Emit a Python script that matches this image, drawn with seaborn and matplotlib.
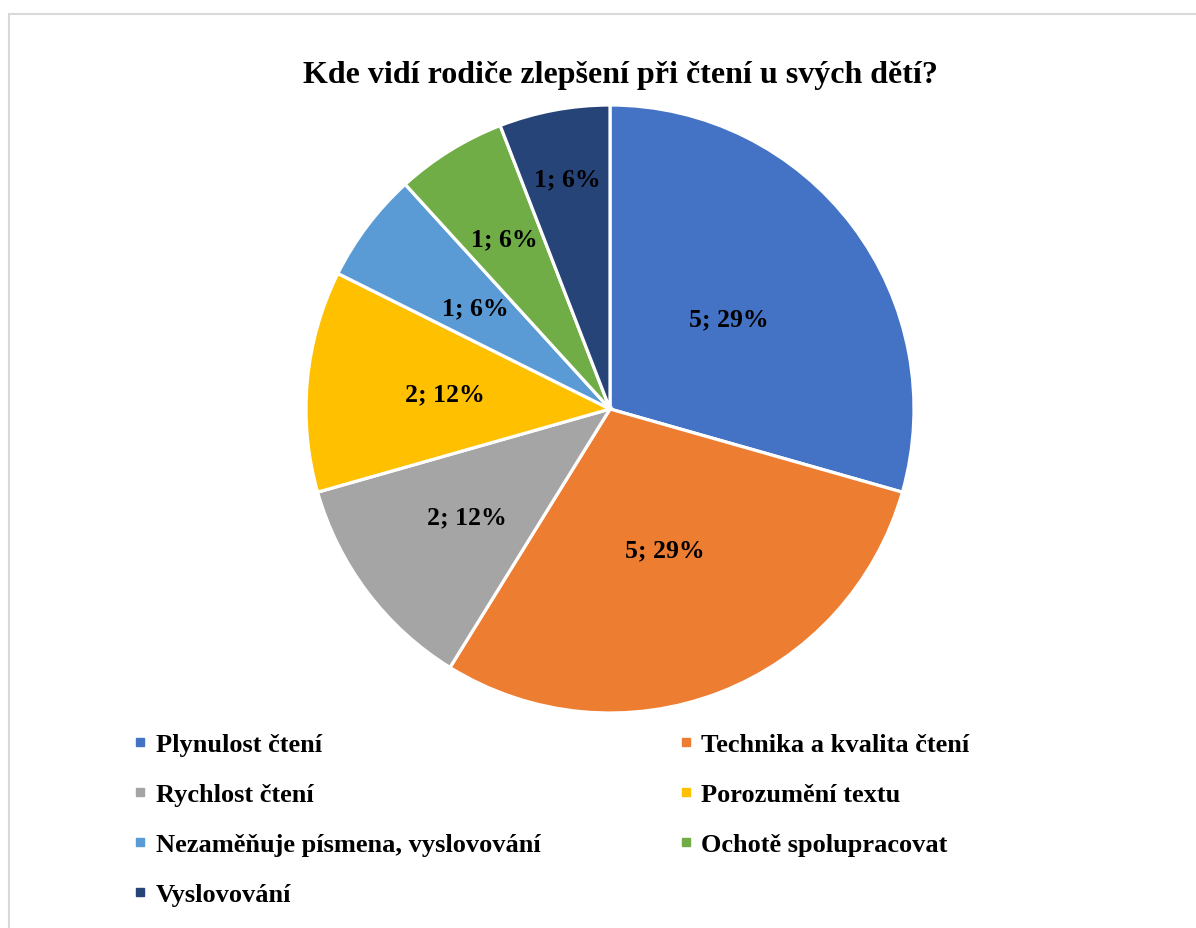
import numpy as np
import matplotlib
matplotlib.use("Agg")
import matplotlib.pyplot as plt
from matplotlib.lines import Line2D
from matplotlib.patches import Rectangle
import seaborn as sns

# data
categories = ["Plynulost čtení", "Technika a kvalita čtení", "Rychlost čtení",
              "Porozumění textu", "Nezaměňuje písmena, vyslovování",
              "Ochotě spolupracovat", "Vyslovování"]
counts = [5, 5, 2, 2, 1, 1, 1]
title = "Kde vidí rodiče zlepšení při čtení u svých dětí?"

# Excel-like palette
colors = sns.color_palette(["#4472C4", "#ED7D31", "#A5A5A5", "#FFC000",
                            "#5B9BD5", "#70AD47", "#264478"])
# label distance from centre (fraction of radius), best-fit like
label_dist = [0.49, 0.495, 0.59, 0.545, 0.555, 0.66, 0.77]

sns.set_theme(style="white")
plt.rcParams['font.family'] = ['Liberation Serif', 'DejaVu Serif']
plt.rcParams['font.weight'] = 'bold'
plt.rcParams['text.color'] = 'black'

W, H = 1196, 929
fig = plt.figure(figsize=(W / 100, H / 100), dpi=100)

# light grey frame (top and left visible)
fig.patches.append(Rectangle((9 / W, -0.05), 1.2, 1 - 15 / H + 0.05,
                             transform=fig.transFigure, fill=False,
                             edgecolor="#d9d9d9", linewidth=1.5))

cx, cy, r = 610, H - 410, 304
ax = fig.add_axes([(cx - r) / W, (cy - r) / H, 2 * r / W, 2 * r / H])

total = sum(counts)
wedges, _ = ax.pie(counts, colors=colors, startangle=90, counterclock=False,
                   radius=1, wedgeprops=dict(edgecolor="white", linewidth=2.3))
ax.set_xlim(-1, 1)
ax.set_ylim(-1, 1)
ax.axis("off")

for w, c, d in zip(wedges, counts, label_dist):
    mid = np.deg2rad((w.theta1 + w.theta2) / 2)
    ax.text(d * np.cos(mid), d * np.sin(mid),
            "{}; {}%".format(c, round(c / total * 100)),
            ha="center", va="center", fontsize=18.5, fontweight="bold",
            color="black")

fig.text(620 / W, 1 - 76 / H, title, ha="center", va="center",
         fontsize=23, fontweight="bold", color="black")

handles = [Line2D([], [], marker="s", linestyle="", markersize=6,
                  markerfacecolor=col, markeredgecolor=col) for col in colors]
order = [0, 2, 4, 6, 1, 3, 5]
fig.legend([handles[i] for i in order], [categories[i] for i in order],
           loc="upper left", bbox_to_anchor=(132 / W, 1 - 734 / H),
           ncol=2, frameon=False, fontsize=19, handlelength=0.6,
           handletextpad=0.3, columnspacing=5.2, labelspacing=1.0,
           borderpad=0, borderaxespad=0, labelcolor="black")

fig.savefig("out.png", dpi=100)
